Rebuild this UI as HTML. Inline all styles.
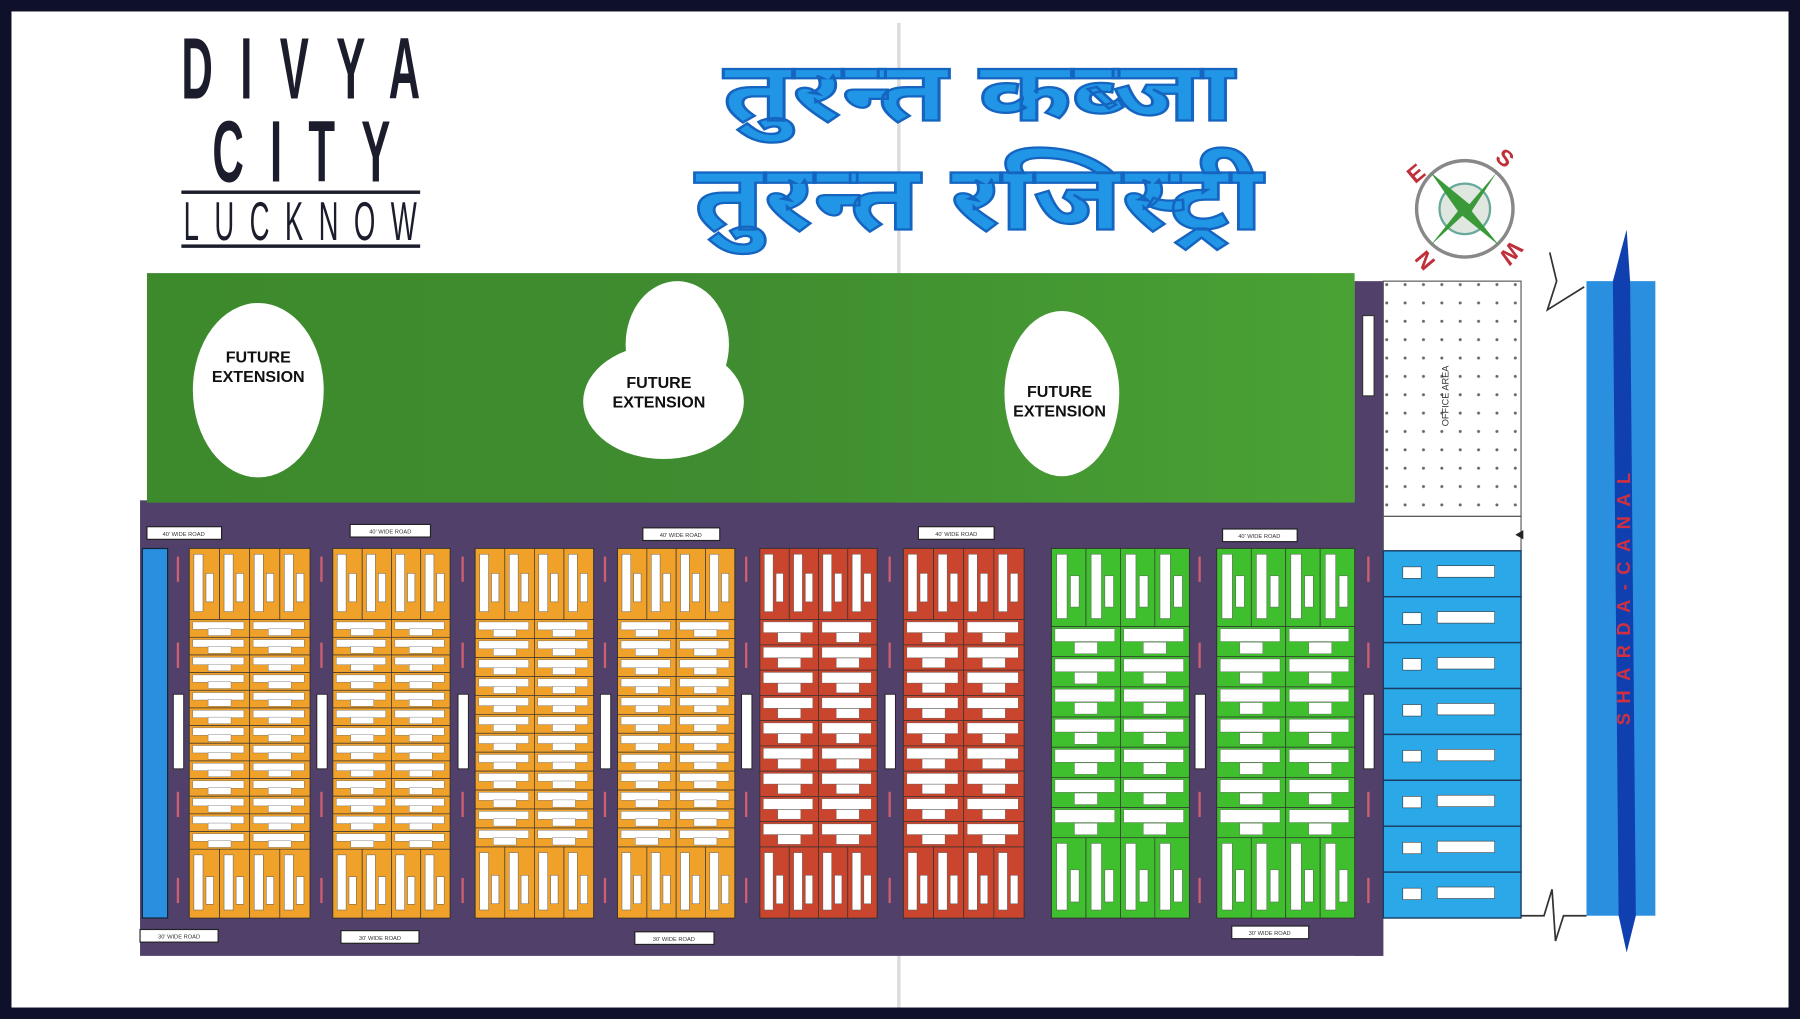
<!DOCTYPE html>
<html><head><meta charset="utf-8"><style>
html,body{margin:0;padding:0;background:#0f1029;}
svg{display:block}
</style></head><body>
<svg id="s" width="1800" height="1019" viewBox="0 0 1568 888" preserveAspectRatio="none" xmlns="http://www.w3.org/2000/svg">
<rect x="0" y="0" width="1568" height="888" fill="#0f1029"/>
<rect x="10" y="10" width="1548" height="868" fill="#ffffff"/>
<line x1="783" y1="20" x2="783" y2="878" stroke="#dcdcdc" stroke-width="3"/>
<!-- title -->
<g font-family="Liberation Sans, sans-serif" font-weight="bold" fill="#1b1d2c">
<g transform="translate(158,86) scale(0.5,1)"><text x="0" y="0" font-size="76" textLength="416" lengthAdjust="spacing">DIVYA</text></g>
<g transform="translate(185,158) scale(0.5,1)"><text x="0" y="0" font-size="76" textLength="310" lengthAdjust="spacing">CITY</text></g>
</g>
<rect x="158" y="166" width="208" height="3" fill="#1b1d2c"/>
<g transform="translate(160,209) scale(0.5,1)"><text x="0" y="0" font-family="Liberation Sans, sans-serif" font-size="48" fill="#1b1d2c" textLength="406" lengthAdjust="spacing">LUCKNOW</text></g>
<rect x="158" y="213" width="208" height="3" fill="#1b1d2c"/>
<!-- hindi -->
<g font-family="Liberation Sans, 'Noto Sans Devanagari', 'Lohit Devanagari', sans-serif" font-weight="bold" fill="#2196e6" stroke="#1565c0" stroke-width="2">
<text x="630" y="105" font-size="72" textLength="445" lengthAdjust="spacingAndGlyphs">तुरन्त कब्जा</text>
<text x="605" y="200" font-size="80" textLength="495" lengthAdjust="spacingAndGlyphs">तुरन्त रजिस्ट्री</text>
</g>
<!-- compass -->
<circle cx="1276" cy="182" r="42" fill="#fff" stroke="#888" stroke-width="3"/>
<circle cx="1276" cy="182" r="22" fill="#e0e6e0" stroke="#6a9" stroke-width="2"/>
<polygon points="1246,150 1280,178 1304,150 1282,184 1306,214 1274,188 1246,214 1270,184" fill="#3a9a3a"/>
<g font-family="Liberation Sans, sans-serif" font-weight="bold" font-size="20" fill="#c0303a">
<text x="1226" y="158" transform="rotate(-40 1233 150)">E</text>
<text x="1305" y="145" transform="rotate(40 1312 137)">S</text>
<text x="1232" y="235" transform="rotate(-130 1240 227)">N</text>
<text x="1310" y="228" transform="rotate(130 1318 220)">W</text>
</g>
<!-- green & purple -->
<rect x="122" y="436" width="1083" height="397" fill="#50406a"/>
<rect x="1180" y="245" width="25" height="588" fill="#50406a"/>
<defs><linearGradient id="g" x1="0" x2="1"><stop offset="0" stop-color="#3d8a2c"/><stop offset="0.5" stop-color="#3f8d30"/><stop offset="1" stop-color="#4aa234"/></linearGradient>
<pattern id="dots" width="16" height="16" patternUnits="userSpaceOnUse"><circle cx="8" cy="8" r="1.3" fill="#666"/></pattern></defs>
<rect x="128" y="238" width="1052" height="200" fill="url(#g)"/>
<rect x="1187" y="275" width="10" height="70" fill="#fff" stroke="#333"/>
<!-- clouds -->
<g fill="#fff">
<ellipse cx="225" cy="340" rx="57" ry="76"/>
<ellipse cx="590" cy="300" rx="45" ry="55"/>
<ellipse cx="578" cy="350" rx="70" ry="50"/>
<ellipse cx="925" cy="343" rx="50" ry="72"/>
</g>
<g font-family="Liberation Sans, sans-serif" font-weight="bold" font-size="14" fill="#111" text-anchor="middle">
<text x="225" y="316">FUTURE</text><text x="225" y="333">EXTENSION</text>
<text x="574" y="338">FUTURE</text><text x="574" y="355">EXTENSION</text>
<text x="923" y="346">FUTURE</text><text x="923" y="363">EXTENSION</text>
</g>
<!-- office -->
<rect x="1205" y="245" width="120" height="205" fill="#fff" stroke="#555"/>
<rect x="1205" y="245" width="120" height="205" fill="url(#dots)"/>
<text x="1262" y="345" font-family="Liberation Sans, sans-serif" font-size="8" fill="#333" transform="rotate(-90 1262 345)" text-anchor="middle">OFFICE AREA</text>
<rect x="1205" y="450" width="120" height="30" fill="#fff" stroke="#555"/>
<polygon points="1320,466 1327,462 1327,470" fill="#222"/>
<!-- canal -->
<polyline points="1350,220 1356,245 1348,270 1380,250" fill="none" stroke="#333" stroke-width="1.5"/>
<polyline points="1325,798 1345,798 1352,775 1355,820 1362,798 1382,798" fill="none" stroke="#333" stroke-width="1.5"/>
<rect x="1382" y="245" width="60" height="553" fill="#2b8fe0"/>
<polygon points="1405,245 1417,200 1420,245 1425,798 1417,830 1410,798" fill="#1040b0"/>
<text x="1420" y="632" font-family="Liberation Sans, sans-serif" font-weight="bold" font-size="16" fill="#d23040" transform="rotate(-90 1420 632)" textLength="220" lengthAdjust="spacing">SHARDA-CANAL</text>
<g id="blue"></g>
<g id="blocks"></g>
<!-- road labels -->
<g fill="#fff" stroke="#222" stroke-width="1">
<rect x="128" y="459" width="65" height="11"/><rect x="305" y="457" width="70" height="11"/>
<rect x="560" y="460" width="67" height="11"/><rect x="800" y="459" width="66" height="11"/>
<rect x="1065" y="461" width="65" height="11"/>
<rect x="122" y="810" width="68" height="11"/><rect x="297" y="811" width="68" height="11"/>
<rect x="553" y="812" width="69" height="11"/><rect x="1073" y="807" width="67" height="11"/>
</g>
<g font-family="Liberation Sans, sans-serif" font-size="5" fill="#333" text-anchor="middle">
<text x="160" y="467">40' WIDE ROAD</text><text x="340" y="465">40' WIDE ROAD</text>
<text x="593" y="468">40' WIDE ROAD</text><text x="833" y="467">40' WIDE ROAD</text>
<text x="1097" y="469">40' WIDE ROAD</text><text x="156" y="818">30' WIDE ROAD</text>
<text x="331" y="819">30' WIDE ROAD</text><text x="587" y="820">30' WIDE ROAD</text>
<text x="1106" y="815">30' WIDE ROAD</text>
</g>
<rect x="124" y="478" width="22" height="322" fill="#2b8fe0" stroke="#123" />
</svg>
<script>
var NS="http://www.w3.org/2000/svg";
function R(p,x,y,w,h,f,st,sw){var r=document.createElementNS(NS,"rect");r.setAttribute("x",x);r.setAttribute("y",y);r.setAttribute("width",w);r.setAttribute("height",h);r.setAttribute("fill",f);if(st){r.setAttribute("stroke",st);r.setAttribute("stroke-width",sw||0.7);}p.appendChild(r);}
var B=document.getElementById("blocks"),BL=document.getElementById("blue");
for(var i=0;i<8;i++){var y=480+i*40;R(BL,1205,y,120,40,"#2aa8e8","#1a3a60",1.2);R(BL,1222,y+14,16,10,"#fff","#333",0.5);R(BL,1252,y+13,50,10,"#fff","#333",0.5);}
function block(x,w,col,n,topH,botH){var y0=478,y1=800;R(B,x,y0,w,y1-y0,col,"#3a2a2a",1);var cw=w/4;
for(var k=0;k<4;k++){R(B,x+k*cw,y0,cw,topH,col,"#333",0.6);R(B,x+k*cw+cw*0.15,y0+5,cw*0.3,topH-12,"#fff","#555",0.4);R(B,x+k*cw+cw*0.55,y0+topH*0.35,cw*0.25,topH*0.4,"#fff","#555",0.4);
R(B,x+k*cw,y1-botH,cw,botH,col,"#333",0.6);R(B,x+k*cw+cw*0.15,y1-botH+5,cw*0.3,botH-12,"#fff","#555",0.4);R(B,x+k*cw+cw*0.55,y1-botH*0.6,cw*0.25,botH*0.4,"#fff","#555",0.4);}
var ym=y0+topH,hm=(y1-botH-ym)/n;
for(var r=0;r<n;r++)for(var c=0;c<2;c++){var xx=x+c*w/2,yy=ym+r*hm;R(B,xx,yy,w/2,hm,col,"#333",0.6);R(B,xx+3,yy+2,w/2-8,hm*0.42,"#fff","#555",0.3);R(B,xx+w/4-10,yy+hm*0.52,20,hm*0.38,"#fff","#555",0.3);}}
var O="#f0a12a",RD="#c9452e",G="#3fbf2e";
block(165,105,O,13,62,60);block(290,102,O,13,62,60);block(414,103,O,12,62,62);block(538,102,O,12,62,62);
block(662,102,RD,9,62,62);block(787,105,RD,9,62,62);block(916,120,G,7,68,70);block(1060,120,G,7,68,70);
var S=document.getElementById("s");
[155,280,403,527,650,775,1045,1192].forEach(function(x){R(S,x-4,605,9,65,"#fff","#222",0.8);
[485,560,690,765].forEach(function(y){R(S,x-1,y,2,22,"#d06070");});});
</script>
</body></html>
